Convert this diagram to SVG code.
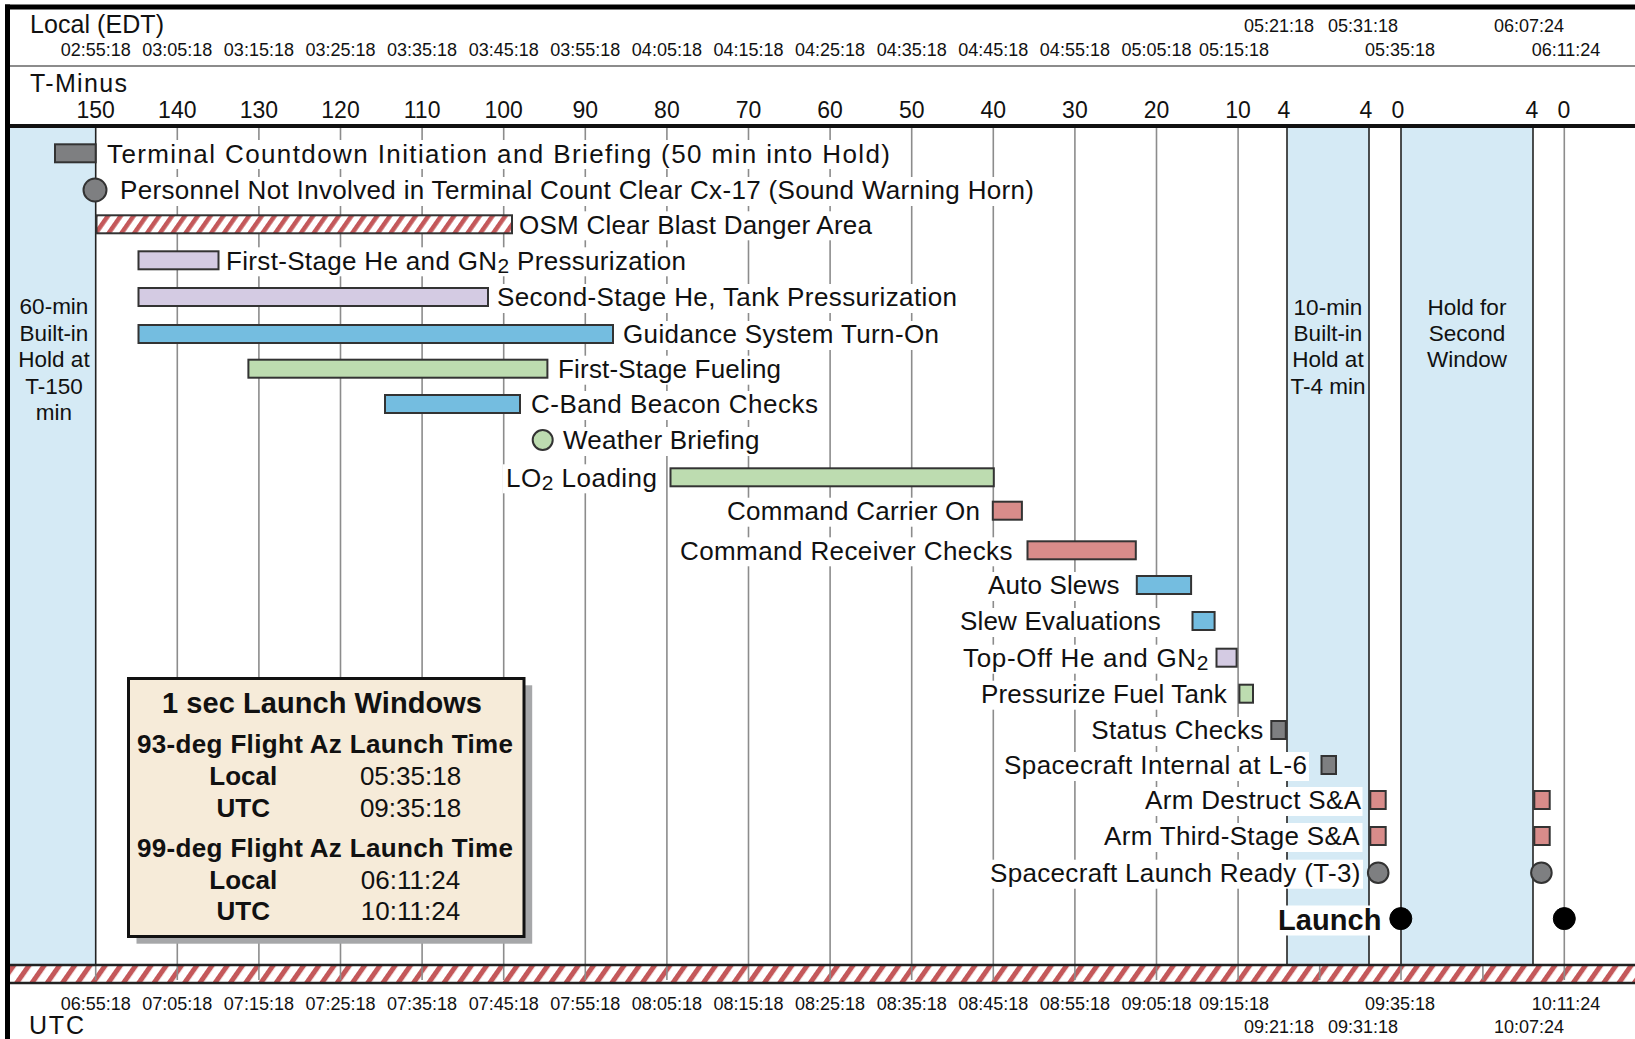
<svg xmlns="http://www.w3.org/2000/svg" width="1635" height="1039" viewBox="0 0 1635 1039">
<defs>
<style>
text{font-family:"Liberation Sans",Arial,sans-serif;fill:#111}
.lbl{font-size:26px}
.tm{font-size:18px;text-anchor:middle}
.tn{font-size:23px;text-anchor:middle}
.hd{font-size:25px}
.ht{font-size:22.5px;text-anchor:middle}
.bar{stroke:#333;stroke-width:2}
.g{fill:#7e7f81}.p{fill:#d4cbe3}.b{fill:#74bde0}.gr{fill:#bddcb0}.r{fill:#d88c8a}
.grid{stroke:#8c8c8c;stroke-width:1.6}
.hl{stroke:#222;stroke-width:1.6}
.hold{fill:#d5eaf5}
.kb{fill:#fff}
.bx{font-size:26px;font-weight:bold;text-anchor:middle}
.bt{font-size:29px;font-weight:bold;text-anchor:middle}
.bv{font-size:26px;text-anchor:middle}
.launch{font-size:29px;font-weight:bold}
</style>
<pattern id="hatch" patternUnits="userSpaceOnUse" width="10.5" height="10.5" patternTransform="rotate(35)">
<rect width="10.5" height="10.5" fill="#fff"/>
<rect width="4.5" height="10.5" fill="#c4585a"/>
</pattern>
<pattern id="hatch2" patternUnits="userSpaceOnUse" width="12.5" height="12.5" patternTransform="rotate(35)">
<rect width="12.5" height="12.5" fill="#fff"/>
<rect width="5" height="12.5" fill="#c4585a"/>
</pattern>
</defs>
<rect width="1635" height="1039" fill="#fff"/>

<g id="holds">
<rect class="hold" x="10" y="128" width="85.7" height="837"/>
<rect class="hold" x="1287" y="128" width="82" height="837"/>
<rect class="hold" x="1401" y="128" width="132" height="837"/>
</g>

<g id="connectors">
<rect x="10" y="965" width="1625" height="18" fill="url(#hatch2)"/>
<g class="grid">
<line x1="177.3" y1="127" x2="177.3" y2="980"/>
<line x1="258.9" y1="127" x2="258.9" y2="980"/>
<line x1="340.5" y1="127" x2="340.5" y2="980"/>
<line x1="422.1" y1="127" x2="422.1" y2="980"/>
<line x1="503.7" y1="127" x2="503.7" y2="980"/>
<line x1="585.3" y1="127" x2="585.3" y2="980"/>
<line x1="666.9" y1="127" x2="666.9" y2="980"/>
<line x1="748.5" y1="127" x2="748.5" y2="980"/>
<line x1="830.1" y1="127" x2="830.1" y2="980"/>
<line x1="911.7" y1="127" x2="911.7" y2="980"/>
<line x1="993.3" y1="127" x2="993.3" y2="980"/>
<line x1="1074.9" y1="127" x2="1074.9" y2="980"/>
<line x1="1156.5" y1="127" x2="1156.5" y2="980"/>
<line x1="1238.1" y1="127" x2="1238.1" y2="980"/>
<line x1="1564.3" y1="127" x2="1564.3" y2="980"/>
<line x1="95.7" y1="965" x2="95.7" y2="980"/>
<line x1="1319.7" y1="965" x2="1319.7" y2="980"/>
<line x1="1401" y1="965" x2="1401" y2="980"/>
<line x1="1482.9" y1="965" x2="1482.9" y2="980"/>
</g>
<g class="hl">
<line x1="95.7" y1="127" x2="95.7" y2="965"/>
<line x1="1287" y1="127" x2="1287" y2="965"/>
<line x1="1369" y1="127" x2="1369" y2="965"/>
<line x1="1401" y1="127" x2="1401" y2="965"/>
<line x1="1533" y1="127" x2="1533" y2="965"/>
</g>
<line x1="10" y1="965" x2="1635" y2="965" stroke="#222" stroke-width="2.5"/>
<line x1="10" y1="983" x2="1635" y2="983" stroke="#222" stroke-width="2.5"/>
</g>

<g id="header">
<text class="hd" x="30" y="33" textLength="134" lengthAdjust="spacing">Local (EDT)</text>
<text class="tm" x="95.7" y="56">02:55:18</text>
<text class="tm" x="177.3" y="56">03:05:18</text>
<text class="tm" x="258.9" y="56">03:15:18</text>
<text class="tm" x="340.5" y="56">03:25:18</text>
<text class="tm" x="422.1" y="56">03:35:18</text>
<text class="tm" x="503.7" y="56">03:45:18</text>
<text class="tm" x="585.3" y="56">03:55:18</text>
<text class="tm" x="666.9" y="56">04:05:18</text>
<text class="tm" x="748.5" y="56">04:15:18</text>
<text class="tm" x="830.1" y="56">04:25:18</text>
<text class="tm" x="911.7" y="56">04:35:18</text>
<text class="tm" x="993.3" y="56">04:45:18</text>
<text class="tm" x="1074.9" y="56">04:55:18</text>
<text class="tm" x="1156.5" y="56">05:05:18</text>
<text class="tm" x="1234" y="56">05:15:18</text>
<text class="tm" x="1400" y="56">05:35:18</text>
<text class="tm" x="1566" y="56">06:11:24</text>
<text class="tm" x="1279" y="32">05:21:18</text>
<text class="tm" x="1363" y="32">05:31:18</text>
<text class="tm" x="1529" y="32">06:07:24</text>
<line x1="10" y1="66" x2="1635" y2="66" stroke="#666" stroke-width="1.5"/>
<text class="hd" x="30" y="92" textLength="97" lengthAdjust="spacing">T-Minus</text>
<text class="tn" x="95.7" y="118">150</text>
<text class="tn" x="177.3" y="118">140</text>
<text class="tn" x="258.9" y="118">130</text>
<text class="tn" x="340.5" y="118">120</text>
<text class="tn" x="422.1" y="118">110</text>
<text class="tn" x="503.7" y="118">100</text>
<text class="tn" x="585.3" y="118">90</text>
<text class="tn" x="666.9" y="118">80</text>
<text class="tn" x="748.5" y="118">70</text>
<text class="tn" x="830.1" y="118">60</text>
<text class="tn" x="911.7" y="118">50</text>
<text class="tn" x="993.3" y="118">40</text>
<text class="tn" x="1074.9" y="118">30</text>
<text class="tn" x="1156.5" y="118">20</text>
<text class="tn" x="1238.1" y="118">10</text>
<text class="tn" x="1284" y="118">4</text>
<text class="tn" x="1366" y="118">4</text>
<text class="tn" x="1398" y="118">0</text>
<text class="tn" x="1532" y="118">4</text>
<text class="tn" x="1564" y="118">0</text>
</g>

<g id="footer">
<text class="tm" x="95.7" y="1010">06:55:18</text>
<text class="tm" x="177.3" y="1010">07:05:18</text>
<text class="tm" x="258.9" y="1010">07:15:18</text>
<text class="tm" x="340.5" y="1010">07:25:18</text>
<text class="tm" x="422.1" y="1010">07:35:18</text>
<text class="tm" x="503.7" y="1010">07:45:18</text>
<text class="tm" x="585.3" y="1010">07:55:18</text>
<text class="tm" x="666.9" y="1010">08:05:18</text>
<text class="tm" x="748.5" y="1010">08:15:18</text>
<text class="tm" x="830.1" y="1010">08:25:18</text>
<text class="tm" x="911.7" y="1010">08:35:18</text>
<text class="tm" x="993.3" y="1010">08:45:18</text>
<text class="tm" x="1074.9" y="1010">08:55:18</text>
<text class="tm" x="1156.5" y="1010">09:05:18</text>
<text class="tm" x="1234" y="1010">09:15:18</text>
<text class="tm" x="1400" y="1010">09:35:18</text>
<text class="tm" x="1566" y="1010">10:11:24</text>
<text class="tm" x="1279" y="1033">09:21:18</text>
<text class="tm" x="1363" y="1033">09:31:18</text>
<text class="tm" x="1529" y="1033">10:07:24</text>
<text class="hd" x="29" y="1034" textLength="55" lengthAdjust="spacing">UTC</text>
</g>

<g id="hold-150">
<text class="ht" x="54" y="314">60-min</text>
<text class="ht" x="54" y="340.5">Built-in</text>
<text class="ht" x="54" y="367">Hold at</text>
<text class="ht" x="54" y="393.5">T-150</text>
<text class="ht" x="54" y="420">min</text>
</g>
<g id="hold-4">
<text class="ht" x="1328" y="315">10-min</text>
<text class="ht" x="1328" y="341">Built-in</text>
<text class="ht" x="1328" y="367">Hold at</text>
<text class="ht" x="1328" y="393.5">T-4 min</text>
</g>
<g id="hold-second-window">
<text class="ht" x="1467" y="315">Hold for</text>
<text class="ht" x="1467" y="341">Second</text>
<text class="ht" x="1467" y="367">Window</text>
</g>

<g id="task-terminal-countdown">
<rect class="kb" x="104" y="140" width="789" height="29"/>
<rect class="bar g" x="55" y="144.3" width="40.7" height="18"/>
<text class="lbl" x="107" y="162.6" textLength="783" lengthAdjust="spacing">Terminal Countdown Initiation and Briefing (50 min into Hold)</text>
</g>
<g id="task-personnel-clear">
<rect class="kb" x="117" y="177" width="920" height="29"/>
<circle class="bar g" cx="95" cy="190" r="11.5"/>
<text class="lbl" x="120" y="199.3" textLength="914" lengthAdjust="spacing">Personnel Not Involved in Terminal Count Clear Cx-17 (Sound Warning Horn)</text>
</g>
<g id="task-osm-clear">
<rect class="kb" x="516" y="211.3" width="359" height="29"/>
<rect class="bar" x="96.5" y="215.3" width="415.5" height="18" fill="url(#hatch)"/>
<text class="lbl" x="519" y="233.6" textLength="353" lengthAdjust="spacing">OSM Clear Blast Danger Area</text>
</g>
<g id="task-first-stage-pressurization">
<rect class="kb" x="223" y="247.3" width="466" height="29"/>
<rect class="bar p" x="138.5" y="251.3" width="80" height="18"/>
<text class="lbl" x="226" y="269.6" textLength="460" lengthAdjust="spacing">First-Stage He and GN<tspan dy="3" font-size="21">2</tspan><tspan dy="-3"> Pressurization</tspan></text>
</g>
<g id="task-second-stage-pressurization">
<rect class="kb" x="494" y="284" width="466" height="29"/>
<rect class="bar p" x="138.5" y="288" width="349.5" height="18"/>
<text class="lbl" x="497" y="306.3" textLength="460" lengthAdjust="spacing">Second-Stage He, Tank Pressurization</text>
</g>
<g id="task-guidance">
<rect class="kb" x="620" y="321" width="322" height="29"/>
<rect class="bar b" x="138.5" y="325" width="474.5" height="18"/>
<text class="lbl" x="623" y="343.3" textLength="316" lengthAdjust="spacing">Guidance System Turn-On</text>
</g>
<g id="task-first-stage-fueling">
<rect class="kb" x="555" y="355.7" width="229" height="29"/>
<rect class="bar gr" x="248.4" y="359.7" width="299" height="18"/>
<text class="lbl" x="558" y="378" textLength="223" lengthAdjust="spacing">First-Stage Fueling</text>
</g>
<g id="task-c-band">
<rect class="kb" x="528" y="391" width="293" height="29"/>
<rect class="bar b" x="385" y="395" width="135" height="18"/>
<text class="lbl" x="531" y="413.3" textLength="287" lengthAdjust="spacing">C-Band Beacon Checks</text>
</g>
<g id="task-weather">
<rect class="kb" x="560" y="427" width="202" height="29"/>
<circle class="bar gr" cx="542.7" cy="440" r="10"/>
<text class="lbl" x="563" y="449.3" textLength="196.5" lengthAdjust="spacing">Weather Briefing</text>
</g>
<g id="task-lo2-loading">
<rect class="kb" x="503" y="464.3" width="157" height="29"/>
<rect class="bar gr" x="670.5" y="468.3" width="323.3" height="18"/>
<text class="lbl" x="506" y="486.6" textLength="151" lengthAdjust="spacing">LO<tspan dy="3" font-size="21">2</tspan><tspan dy="-3"> Loading</tspan></text>
</g>
<g id="task-command-carrier">
<rect class="kb" x="724" y="497.7" width="259" height="29"/>
<rect class="bar r" x="992.8" y="501.7" width="29.1" height="18"/>
<text class="lbl" x="727" y="520" textLength="253" lengthAdjust="spacing">Command Carrier On</text>
</g>
<g id="task-command-receiver">
<rect class="kb" x="677" y="537.3" width="338.5" height="29"/>
<rect class="bar r" x="1027.5" y="541.3" width="108.3" height="18"/>
<text class="lbl" x="680" y="559.6" textLength="332.5" lengthAdjust="spacing">Command Receiver Checks</text>
</g>
<g id="task-auto-slews">
<rect class="kb" x="985" y="572" width="137.4" height="29"/>
<rect class="bar b" x="1136.8" y="576" width="54.3" height="18"/>
<text class="lbl" x="988" y="594.3" textLength="131.4" lengthAdjust="spacing">Auto Slews</text>
</g>
<g id="task-slew-evaluations">
<rect class="kb" x="957" y="608" width="206.7" height="29"/>
<rect class="bar b" x="1192.5" y="612" width="22.1" height="18"/>
<text class="lbl" x="960" y="630.3" textLength="200.7" lengthAdjust="spacing">Slew Evaluations</text>
</g>
<g id="task-top-off">
<rect class="kb" x="960" y="644.7" width="251.5" height="29"/>
<rect class="bar p" x="1216.5" y="648.7" width="20.1" height="18"/>
<text class="lbl" x="963" y="667" textLength="245.5" lengthAdjust="spacing">Top-Off He and GN<tspan dy="3" font-size="21">2</tspan></text>
</g>
<g id="task-pressurize-fuel-tank">
<rect class="kb" x="978" y="680.7" width="251.8" height="29"/>
<rect class="bar gr" x="1239.4" y="684.7" width="13.6" height="18"/>
<text class="lbl" x="981" y="703" textLength="245.8" lengthAdjust="spacing">Pressurize Fuel Tank</text>
</g>
<g id="task-status-checks">
<rect class="kb" x="1088.3" y="717" width="178" height="29"/>
<rect class="bar g" x="1271.3" y="721" width="14.5" height="18"/>
<text class="lbl" x="1091.3" y="739.3" textLength="172" lengthAdjust="spacing">Status Checks</text>
</g>
<g id="task-spacecraft-internal">
<rect class="kb" x="1001" y="752" width="308" height="29"/>
<rect class="bar g" x="1321.5" y="756" width="14.5" height="18"/>
<text class="lbl" x="1004" y="774.3" textLength="303" lengthAdjust="spacing">Spacecraft Internal at L-6</text>
</g>
<g id="task-arm-destruct">
<rect class="kb" x="1142" y="787" width="220.5" height="29"/>
<rect class="bar r" x="1370.3" y="791" width="15.4" height="18"/>
<rect class="bar r" x="1534.3" y="791" width="15.4" height="18"/>
<text class="lbl" x="1145" y="809.3" textLength="216" lengthAdjust="spacing">Arm Destruct S&amp;A</text>
</g>
<g id="task-arm-third-stage">
<rect class="kb" x="1101" y="823" width="261.5" height="29"/>
<rect class="bar r" x="1370.3" y="827" width="15.4" height="18"/>
<rect class="bar r" x="1534.3" y="827" width="15.4" height="18"/>
<text class="lbl" x="1104" y="845.3" textLength="255.5" lengthAdjust="spacing">Arm Third-Stage S&amp;A</text>
</g>
<g id="task-launch-ready">
<rect class="kb" x="987" y="859.7" width="376" height="29"/>
<circle class="bar g" cx="1378.2" cy="872.7" r="10.3"/>
<circle class="bar g" cx="1541.4" cy="872.7" r="10.3"/>
<text class="lbl" x="990" y="882" textLength="370.4" lengthAdjust="spacing">Spacecraft Launch Ready (T-3)</text>
</g>
<g id="task-launch">
<rect class="kb" x="1276" y="905.5" width="108" height="30"/>
<circle cx="1400.8" cy="918.6" r="11" fill="#000" stroke="#000" stroke-width="1"/>
<circle cx="1564.3" cy="918.6" r="11" fill="#000" stroke="#000" stroke-width="1"/>
<text class="launch" x="1278" y="929.5" textLength="103.5" lengthAdjust="spacing">Launch</text>
</g>

<g id="launch-windows">
<rect x="136.5" y="685.3" width="395.7" height="258.4" fill="#a6a7a9"/>
<rect x="128.5" y="678.5" width="395.5" height="258" fill="#f6ebd9" stroke="#111" stroke-width="3"/>
<text class="bt" x="322" y="713" textLength="320" lengthAdjust="spacing">1 sec Launch Windows</text>
<text class="bx" x="325" y="753" textLength="376" lengthAdjust="spacing">93-deg Flight Az Launch Time</text>
<text class="bx" x="243.3" y="785">Local</text>
<text class="bv" x="410.5" y="785">05:35:18</text>
<text class="bx" x="243.3" y="817">UTC</text>
<text class="bv" x="410.5" y="817">09:35:18</text>
<text class="bx" x="325" y="857" textLength="376" lengthAdjust="spacing">99-deg Flight Az Launch Time</text>
<text class="bx" x="243.3" y="888.5">Local</text>
<text class="bv" x="410.5" y="888.5">06:11:24</text>
<text class="bx" x="243.3" y="920">UTC</text>
<text class="bv" x="410.5" y="920">10:11:24</text>
</g>

<g id="frame">
<line x1="5" y1="7" x2="1635" y2="7" stroke="#000" stroke-width="5"/>
<line x1="7.5" y1="4.5" x2="7.5" y2="1039" stroke="#000" stroke-width="5"/>
<line x1="10" y1="126" x2="1635" y2="126" stroke="#111" stroke-width="4"/>
</g>
</svg>
